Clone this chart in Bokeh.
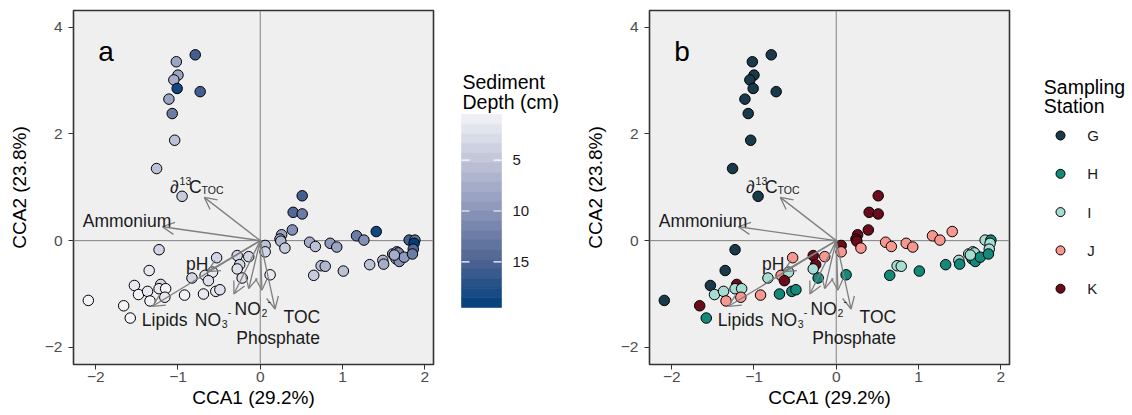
import numpy as np
from bokeh.plotting import figure
from bokeh.layouts import row
from bokeh.models import ColumnDataSource, Range1d, FixedTicker, Span, Arrow, OpenHead
from bokeh.core.properties import value
from bokeh.embed import file_html
from bokeh.resources import INLINE

FONT = "Liberation Sans"

# ---- site scores (CCA1, CCA2), sediment depth and sampling station ----
cca1 = [
    -0.79, -1.02, -1.00, -1.05, -1.01, -0.73, -1.11, -1.07, -1.04, -1.26, -0.95,
    -1.23, -1.35, -1.53, -2.09, -1.66, -1.58, -1.48, -1.37, -1.21, -1.23, -1.15,
    -1.34, -1.16, -0.92, -0.83, -0.69, -0.67, -0.58, -0.63, -0.53, -0.54, -0.49,
    -0.28, -0.14, -0.25, -0.28, -0.22, 0.06, 0.06, 0.12,
    0.51, 0.40, 0.51, 0.39, 0.26, 0.24, 0.25, 0.30, 0.60, 0.67, 0.85, 0.93,
    1.17, 1.26, 1.41, 0.74, 0.79, 0.65, 1.01, 1.33, 1.49, 1.50, 1.61, 1.66,
    1.68, 1.65, 1.69, 1.75, 1.81, 1.88, 1.87, 1.86, 1.85, 1.63,
]
cca2 = [
    3.48, 3.35, 3.10, 3.01, 2.85, 2.79, 2.65, 2.38, 1.88, 1.35, 0.83,
    -0.17, -0.56, -0.84, -1.12, -1.22, -1.45, -1.01, -0.95, -0.82, -0.90, -0.90,
    -1.13, -1.06, -1.02, -0.70, -1.00, -0.65, -0.59, -0.75, -0.32, -0.95, -0.92,
    -0.28, -0.30, -0.45, -0.53, -0.70, -0.09, -0.21, -0.64,
    0.84, 0.53, 0.50, 0.20, 0.11, 0.03, -0.01, -0.14, -0.03, -0.11, -0.05, -0.12,
    0.09, 0.01, 0.17, -0.47, -0.48, -0.65, -0.57, -0.45, -0.37, -0.44, -0.25, -0.21,
    -0.23, -0.34, -0.39, -0.31, 0.01, 0.01, -0.05, -0.16, -0.25, -0.27,
]
depth_cm = [
    15.5, 8.5, 8.5, 7.5, 18.5, 15.5, 8.5, 12.5, 5.5, 5.5, 4.5,
    3.5, 1.5, 1.5, 0.5, 0.5, 0.5, 0.5, 1.5, 3.5, 1.5, 0.5,
    0.5, 1.5, 0.5, 3.5, 1.5, 2.5, 1.5, 2.5, 3.5, 1.5, 2.5,
    3.5, 3.5, 3.5, 2.5, 2.5, 5.5, 3.5, 1.5,
    15.5, 14.5, 12.5, 10.5, 8.5, 7.5, 6.5, 4.5, 7.5, 5.5, 9.5, 8.5,
    12.5, 10.5, 18.5, 5.5, 6.5, 4.5, 5.5, 5.5, 6.5, 7.5, 8.5, 10.5,
    11.5, 9.5, 10.5, 9.5, 15.5, 13.5, 19.5, 14.5, 12.5, 7.5,
]
station = (
    ["G"] * 11
    + ["G", "G", "G", "G", "K", "H", "I", "I", "K", "I", "I",
       "J", "J", "J", "I", "H", "J", "I", "K", "J", "H", "H",
       "K", "J", "K", "I", "H", "K", "J", "H"]
    + ["K", "K", "K", "K", "K", "K", "K", "J", "J", "J", "J", "J",
       "J", "J", "J", "I", "I", "H", "H", "H", "I", "H", "I", "I",
       "I", "H", "H", "H", "I", "H", "I", "I", "H", "I"]
)

stations = ["G", "H", "I", "J", "K"]
station_colors = ["#193A4A", "#13897A", "#A6DCD2", "#F8978F", "#6B0C1C"]

# ---- environmental biplot arrows ----
env_cca1 = [-1.19, -0.68, -0.64, -1.31, -0.32, -0.14, 0.02, 0.18]
env_cca2 = [0.26, 0.81, -0.58, -1.23, -1.00, -0.90, -0.93, -1.28]

x_ticks = [-2, -1, 0, 1, 2]
y_ticks = [-2, 0, 2, 4]
depth_ticks = [5, 10, 15]

X_RANGE = (-2.27, 2.106)
Y_RANGE = (-2.32, 4.31)

# plot frame edges shared by every figure in the row (px from page top)
FRAME_TOP, FRAME_BOTTOM, PAGE_H = 10, 364, 415

# sequential palette for depth (light -> deep navy)
_stops = [(0.0, (243, 243, 247)), (0.25, (190, 195, 216)), (0.5, (138, 149, 186)),
          (0.75, (80, 101, 148)), (1.0, (0, 63, 124))]
dmin, dmax = min(depth_cm), max(depth_cm)


def depth_color(d):
    t = (d - dmin) / (dmax - dmin)
    t = min(max(t, 0.0), 1.0)
    for (t0, c0), (t1, c1) in zip(_stops[:-1], _stops[1:]):
        if t <= t1:
            f = (t - t0) / (t1 - t0)
            r, g, b = [round(a + (bb - a) * f) for a, bb in zip(c0, c1)]
            return "#%02x%02x%02x" % (r, g, b)
    return "#%02x%02x%02x" % _stops[-1][1]


depth_fill = [depth_color(d) for d in depth_cm]
station_fill = [station_colors[stations.index(s)] for s in station]

# arrow label pieces: anchor (data units) + pixel offsets
label_x = [-2.158, -0.901, -1.44, -0.795, -0.313, 0.284, -0.292, -1.096]
label_y = [0.368, -0.435, -1.495, -1.48, -1.277, -1.433, -1.826, 1.01]
main_pieces = [(0, "Ammonium", 0, 0), (1, "pH", 0, 0), (2, "Lipids", 0, 0),
               (3, "NO", 0, 0), (4, "NO", 0, 0), (5, "TOC", 0, 0),
               (6, "Phosphate", 0, 0), (7, "\u2202", 0, 0), (7, "C", 19, 0)]
script_pieces = [(3, "3", 27, 4), (3, "-", 33, -8), (4, "2", 27, 4), (4, "-", 33, -8),
                 (7, "13", 9.5, -6), (7, "TOC", 31.5, 3)]


def pieces_source(pieces):
    return ColumnDataSource(dict(
        x=[label_x[i] for i, _, _, _ in pieces],
        y=[label_y[i] for i, _, _, _ in pieces],
        t=[t for _, t, _, _ in pieces],
        dx=[dx for _, _, dx, _ in pieces],
        dy=[dy for _, _, _, dy in pieces],
    ))


def make_panel(letter, fills, width, left, right):
    p = figure(width=width, height=PAGE_H, x_range=Range1d(*X_RANGE), y_range=Range1d(*Y_RANGE),
               output_backend="svg", toolbar_location=None,
               min_border_left=left, min_border_right=right,
               min_border_top=FRAME_TOP, min_border_bottom=PAGE_H - FRAME_BOTTOM)
    p.background_fill_color = "#EFEFEF"
    p.border_fill_color = "white"
    p.outline_line_color = "#333333"
    p.outline_line_width = 1.6
    p.grid.visible = False
    for ax in (p.xaxis[0], p.yaxis[0]):
        ax.axis_line_color = None
        ax.major_tick_line_color = "#333333"
        ax.major_tick_out = 5
        ax.major_tick_in = 0
        ax.minor_tick_line_color = None
        ax.major_label_text_font = FONT
        ax.major_label_text_font_size = "15.5px"
        ax.major_label_text_color = "#4D4D4D"
        ax.axis_label_text_font = FONT
        ax.axis_label_text_font_size = "19px"
        ax.axis_label_text_font_style = "normal"
        ax.axis_label_text_color = "black"
    p.xaxis.ticker = FixedTicker(ticks=x_ticks)
    p.yaxis.ticker = FixedTicker(ticks=y_ticks)
    p.xaxis.axis_label = "CCA1 (29.2%)"
    p.yaxis.axis_label = "CCA2 (23.8%)"
    p.xaxis.major_label_standoff = 2
    p.xaxis.axis_label_standoff = 2
    p.yaxis.major_label_standoff = 6
    p.yaxis.axis_label_standoff = 12

    for dim in ("width", "height"):
        p.add_layout(Span(location=0, dimension=dim, line_color="#808080",
                          line_width=1, level="underlay"))

    src = ColumnDataSource(dict(x=cca1, y=cca2, fill=fills))
    p.scatter("x", "y", source=src, size=10.5, fill_color="fill",
              line_color="black", line_width=1)

    n = len(env_cca1)
    asrc = ColumnDataSource(dict(x0=[0] * n, y0=[0] * n, x1=env_cca1, y1=env_cca2))
    p.add_layout(Arrow(source=asrc, x_start="x0", y_start="y0", x_end="x1", y_end="y1",
                       line_color="#7F7F7F", line_width=1.3,
                       end=OpenHead(size=12, line_color="#7F7F7F", line_width=1.3)))

    for pieces, fs in ((main_pieces, "17.5px"), (script_pieces, "10.5px")):
        r = p.text("x", "y", text="t", x_offset="dx", y_offset="dy",
                   source=pieces_source(pieces), text_font=value(FONT),
                   text_font_size=value(fs), text_align="left",
                   text_baseline="alphabetic", text_color="#1A1A1A")
        r.level = "overlay"

    p.text(x=[-1.97], y=[3.55], text=[letter], text_font=value(FONT),
           text_font_size=value("28px"), text_align="left",
           text_baseline="alphabetic", text_color="black")
    return p


def blank(width, xr, yr):
    # side figure whose frame spans the full width and the shared frame height
    f = figure(width=width, height=PAGE_H, x_range=xr, y_range=yr,
               output_backend="svg", toolbar_location=None,
               min_border_left=0, min_border_right=0,
               min_border_top=FRAME_TOP, min_border_bottom=PAGE_H - FRAME_BOTTOM,
               x_axis_location=None, y_axis_location=None)
    f.outline_line_color = None
    f.grid.visible = False
    f.background_fill_color = "white"
    f.border_fill_color = "white"
    return f


# ---- panel a: coloured by depth ----
pa = make_panel("a", depth_fill, 445, 73, 12)

# ---- depth colour bar ----
bar_top, bar_bot = 114, 307
k = (bar_bot - bar_top) / (dmax - dmin)


def cb_y(px):
    return dmin + (px - bar_top) / k


cb = blank(135, Range1d(0, 135), Range1d(cb_y(FRAME_BOTTOM), cb_y(FRAME_TOP)))
edges = np.linspace(dmin, dmax, 21)
centers = (edges[:-1] + edges[1:]) / 2
bin_cols = [depth_color(c) for c in centers]
cb.quad(left=16, right=56, top=edges[:-1], bottom=edges[1:], fill_color=bin_cols,
        line_color=bin_cols, line_width=0.6)
cb.segment(x0=16, x1=24, y0=depth_ticks, y1=depth_ticks, line_color="white", line_width=1.2)
cb.segment(x0=48, x1=56, y0=depth_ticks, y1=depth_ticks, line_color="white", line_width=1.2)
cb.text(x=67, y=depth_ticks, text=[str(t) for t in depth_ticks], text_font=value(FONT),
        text_font_size=value("15px"), text_baseline="middle", text_color="#1A1A1A")
cb.text(x=17, y=[cb_y(81.7), cb_y(101)], text=["Sediment", "Depth (cm)"],
        text_font=value(FONT), text_font_size=value("19.5px"),
        text_baseline="alphabetic", text_color="black")

# ---- panel b: coloured by station ----
pb = make_panel("b", station_fill, 440, 69, 11)

# ---- station legend (y in page pixels) ----
lg = blank(112, Range1d(0, 112), Range1d(FRAME_BOTTOM, FRAME_TOP))
leg_y = 135 + 38.3 * np.arange(len(stations))
lg.scatter(x=40, y=leg_y, size=9, fill_color=station_colors, line_color="black", line_width=1)
lg.text(x=66.7, y=leg_y, text=stations, text_font=value(FONT), text_font_size=value("15px"),
        text_baseline="middle", text_color="#1A1A1A")
lg.text(x=23.3, y=[86.7, 105], text=["Sampling", "Station"], text_font=value(FONT),
        text_font_size=value("19.5px"), text_baseline="alphabetic", text_color="black")

layout = row(pa, cb, pb, lg)
open("out.html", "w").write(file_html(layout, INLINE))
